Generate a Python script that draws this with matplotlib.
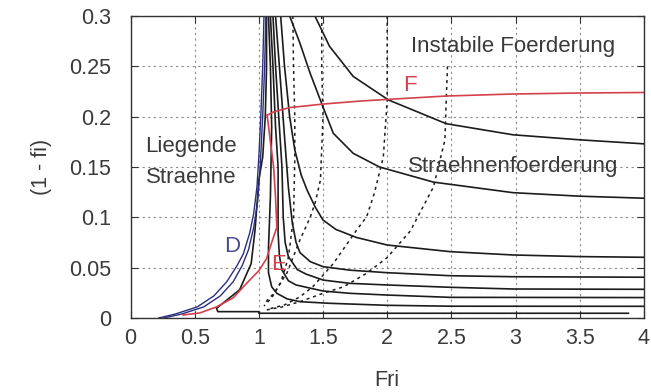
import matplotlib
matplotlib.use("Agg")
import matplotlib.pyplot as plt

plt.rcParams['font.family'] = ['Liberation Sans', 'DejaVu Sans']

# Boundary curves D (blue)
d1_x = [0.22, 0.35, 0.52, 0.65, 0.75, 0.83, 0.88, 0.93, 0.96, 0.985, 1.0, 1.015, 1.03, 1.04]
d1_y = [0.0, 0.004, 0.011, 0.022, 0.036, 0.052, 0.064, 0.085, 0.104, 0.13, 0.16, 0.2, 0.25, 0.3]
d2_x = [0.26, 0.40, 0.57, 0.70, 0.80, 0.87, 0.92, 0.96, 0.99, 1.01, 1.03, 1.045, 1.055]
d2_y = [0.0, 0.004, 0.011, 0.022, 0.036, 0.052, 0.068, 0.09, 0.115, 0.15, 0.2, 0.25, 0.3]

# Boundary curve E and F (red)
e_x = [0.41, 0.54, 0.67, 0.80, 0.905, 1.0, 1.06, 1.10, 1.14, 1.13, 1.115, 1.09, 1.065]
e_y = [0.003, 0.005, 0.011, 0.020, 0.0345, 0.047, 0.059, 0.075, 0.09, 0.12, 0.15, 0.175, 0.2015]
f_x = [1.065, 1.12, 1.24, 1.5, 1.79, 2.01, 2.46, 2.98, 3.5, 4.0]
f_y = [0.2015, 0.205, 0.209, 0.2125, 0.2155, 0.2172, 0.2205, 0.2225, 0.2235, 0.224]

# Solid characteristic curves
k1_x = [1.437, 1.55, 1.735, 2.01, 2.46, 2.98, 3.5, 4.0]
k1_y = [0.3, 0.27, 0.240, 0.2166, 0.193, 0.182, 0.177, 0.173]
k2_x = [1.24, 1.32, 1.40, 1.497, 1.58, 1.735, 1.94, 2.36, 2.98, 3.5, 4.0]
k2_y = [0.3, 0.273, 0.243, 0.2106, 0.1835, 0.1636, 0.150, 0.135, 0.1245, 0.121, 0.119]
k3_x = [1.17, 1.20, 1.24, 1.28, 1.33, 1.376, 1.44, 1.50, 1.60, 1.76, 2.0, 2.49, 2.98, 3.5, 4.0]
k3_y = [0.3, 0.25, 0.20, 0.167, 0.142, 0.127, 0.110, 0.0973, 0.088, 0.080, 0.0725, 0.0659, 0.0626, 0.061, 0.0603]
k4_x = [1.13, 1.16, 1.20, 1.23, 1.26, 1.29, 1.32, 1.40, 1.5, 1.71, 2.0, 2.49, 2.98, 4.0]
k4_y = [0.3, 0.25, 0.18, 0.13, 0.095, 0.075, 0.065, 0.056, 0.051, 0.0475, 0.045, 0.042, 0.041, 0.0405]
k5_x = [1.11, 1.13, 1.16, 1.18, 1.19, 1.205, 1.23, 1.30, 1.37, 1.5, 1.71, 2.0, 2.49, 2.98, 4.0]
k5_y = [0.3, 0.25, 0.19, 0.15, 0.10, 0.075, 0.061, 0.048, 0.0435, 0.0377, 0.0344, 0.0328, 0.0305, 0.0288, 0.0285]
k6_x = [1.09, 1.11, 1.13, 1.15, 1.15, 1.16, 1.18, 1.23, 1.29, 1.5, 1.71, 2.0, 2.49, 4.0]
k6_y = [0.3, 0.25, 0.19, 0.15, 0.084, 0.062, 0.0477, 0.037, 0.0328, 0.0268, 0.0245, 0.0228, 0.0205, 0.0203]
k7_x = [1.075, 1.09, 1.10, 1.09, 1.075, 1.075, 1.10, 1.14, 1.22, 1.32, 1.55, 2.0, 2.5, 4.0]
k7_y = [0.3, 0.25, 0.19, 0.12, 0.07, 0.045, 0.031, 0.0245, 0.019, 0.0162, 0.0146, 0.0126, 0.0117, 0.0116]
k8_x = [1.06, 1.06, 1.05, 1.03, 1.0, 0.97, 0.94, 0.85, 0.67, 0.67, 0.68, 1.0, 1.0, 3.88]
k8_y = [0.3, 0.25, 0.2, 0.16, 0.137, 0.087, 0.054, 0.028, 0.0096, 0.0096, 0.0063, 0.0063, 0.0047, 0.0047]

# Dotted curves
p1_x = [1.265, 1.27, 1.28, 1.28, 1.27, 1.23, 1.17, 1.10, 1.04]
p1_y = [0.3, 0.25, 0.2, 0.157, 0.1, 0.06, 0.035, 0.02, 0.012]
p2_x = [1.49, 1.49, 1.50, 1.48, 1.44, 1.40, 1.32, 1.22, 1.12, 1.04]
p2_y = [0.3, 0.25, 0.2, 0.137, 0.115, 0.10, 0.0775, 0.045, 0.025, 0.014]
p3_x = [2.0, 2.0, 2.0, 1.97, 1.90, 1.84, 1.76, 1.58, 1.42, 1.32, 1.2, 1.08]
p3_y = [0.3, 0.25, 0.2166, 0.160, 0.124, 0.1006, 0.087, 0.054, 0.031, 0.021, 0.013, 0.009]
p4_x = [2.47, 2.46, 2.45, 2.36, 2.18, 2.0, 1.84, 1.66, 1.50, 1.32, 1.18, 1.06]
p4_y = [0.25, 0.2166, 0.177, 0.130, 0.0864, 0.060, 0.0444, 0.031, 0.0245, 0.0162, 0.011, 0.008]

x_ticks = [0, 0.5, 1, 1.5, 2, 2.5, 3, 3.5, 4]
x_ticklabels = ['0', '0.5', '1', '1.5', '2', '2.5', '3', '3.5', '4']
y_ticks = [0, 0.05, 0.1, 0.15, 0.2, 0.25, 0.3]
y_ticklabels = ['0', '0.05', '0.1', '0.15', '0.2', '0.25', '0.3']

text_col = '#3a3a3a'
blue = '#2c2f7a'
red = '#d4404c'
black = '#1c1c1c'

fig = plt.figure(figsize=(6.51, 3.92), dpi=100)
ax = fig.add_axes([0.2005, 0.1888, 0.7885, 0.7704])

for xs, ys in [(p1_x, p1_y), (p2_x, p2_y), (p3_x, p3_y), (p4_x, p4_y)]:
    ax.plot(xs, ys, color=black, lw=1.1, linestyle=(0, (2.0, 2.5)))

for xs, ys in [(k1_x, k1_y), (k2_x, k2_y), (k3_x, k3_y), (k4_x, k4_y),
               (k5_x, k5_y), (k6_x, k6_y), (k7_x, k7_y), (k8_x, k8_y)]:
    ax.plot(xs, ys, color=black, lw=1.2)

ax.plot(d1_x, d1_y, color=blue, lw=1.0)
ax.plot(d2_x, d2_y, color=blue, lw=1.0)
ax.plot(e_x, e_y, color=red, lw=1.2)
ax.plot(f_x, f_y, color=red, lw=1.2)

ax.set_xlim(0, 4)
ax.set_ylim(0, 0.3)
ax.set_xticks(x_ticks)
ax.set_xticklabels(x_ticklabels)
ax.set_yticks(y_ticks)
ax.set_yticklabels(y_ticklabels)
ax.grid(True, color='#8a8a8a', linestyle=(0, (2, 3)), lw=0.8)
ax.tick_params(direction='in', length=5, top=True, right=True,
               labelsize=15.5, labelcolor=text_col, color='#333333')
ax.tick_params(axis='y', pad=14)
ax.tick_params(axis='x', pad=7)
for s in ax.spines.values():
    s.set_color('#333333')
    s.set_linewidth(1.0)

ax.set_xlabel('Fri', fontsize=15.5, color=text_col, labelpad=15)
ax.set_ylabel('(1 - fi)', fontsize=15.5, color=text_col, labelpad=12)

fs = 16
ax.text(0.47, 0.170, 'Liegende', fontsize=fs, color=text_col, ha='center', va='center')
ax.text(0.47, 0.140, 'Straehne', fontsize=fs, color=text_col, ha='center', va='center')
ax.text(2.98, 0.2695, 'Instabile Foerderung', fontsize=fs, color=text_col, ha='center', va='center')
ax.text(2.98, 0.150, 'Straehnenfoerderung', fontsize=fs, color=text_col, ha='center', va='center')
ax.text(0.79, 0.071, 'D', fontsize=fs, color='#4a4f8a', ha='center', va='center')
ax.text(1.15, 0.053, 'E', fontsize=fs, color=red, ha='center', va='center')
ax.text(2.18, 0.231, 'F', fontsize=fs, color=red, ha='center', va='center')

fig.savefig('out.png', dpi=100)
